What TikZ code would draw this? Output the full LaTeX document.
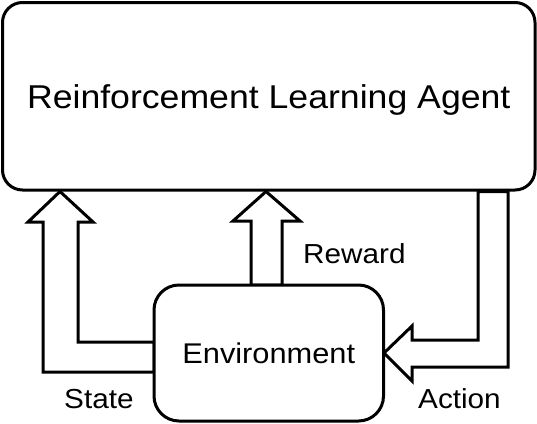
\documentclass[tikz,border=0pt]{standalone}
\usepackage{fontspec}
\setmainfont{Liberation Sans}[FakeStretch=1.08]
\begin{document}
\begin{tikzpicture}[x=1pt,y=-1pt,
  boxstyle/.style={draw=black,line width=3pt,fill=white,inner sep=0pt,text depth=0pt},
  blockarrow/.style={draw=black,line width=3pt,fill=white,line join=miter},
  lbltext/.style={font=\fontsize{27.5}{32}\selectfont,inner sep=0pt,anchor=base west}]
\useasboundingbox (0,0) rectangle (537,423);
\fill[white] (0,0) rectangle (537,423);
% agent box
\node[boxstyle,rounded corners=20pt,minimum width=532.5pt,minimum height=187.5pt,
  text height=23.6pt,font=\fontsize{33}{38}\selectfont] (agent) at (268.75,96.25) {Reinforcement Learning Agent};
% arrows (block arrows attached to the boxes)
\draw[blockarrow] (agent.south -| 60,0) -- (93,222) -- (78,222) -- (78,342) -- (154,342)
  -- (154,372) -- (43,372) -- (43,222) -- (28,222) -- cycle;
\draw[blockarrow] (agent.south -| 266,0) -- (300,221) -- (282,221) -- (282,285) -- (251,285)
  -- (251,221) -- (233,221) -- cycle;
\draw[blockarrow] (agent.south -| 478,0) -- (478,340) -- (412,340) -- (412,326) -- (384,353)
  -- (412,381) -- (412,367) -- (508,367) -- (agent.south -| 508,0) -- cycle;
% environment box
\node[boxstyle,rounded corners=25pt,minimum width=229.5pt,minimum height=136pt,
  text height=20.4pt,font=\fontsize{28.5}{33}\selectfont] (env) at (268.75,353) {Environment};
% labels
\node[lbltext] (reward) at (303,263) {Reward};
\node[lbltext] (state) at (64,408) {State};
\node[lbltext] (action) at (418,408) {Action};
\end{tikzpicture}
\end{document}
